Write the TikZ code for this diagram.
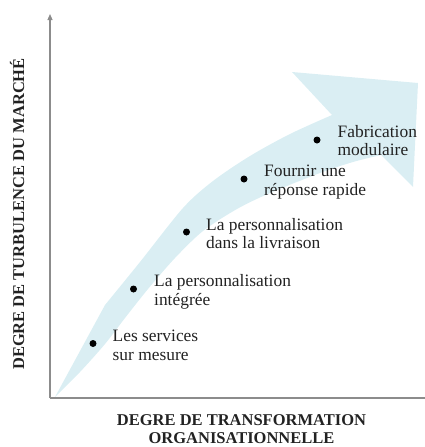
\documentclass[tikz,border=0pt]{standalone}
\usepackage{fontspec}
\setmainfont{Liberation Serif}
\usetikzlibrary{arrows.meta}
\definecolor{bandblue}{HTML}{DAEEF3}
\definecolor{axisgray}{HTML}{8C8C8C}
\definecolor{txt}{HTML}{222222}
\tikzset{
  axisline/.style={draw=axisgray, line width=1.1pt},
  band/.style={fill=bandblue},
  dot/.style={circle, fill=black, inner sep=0pt, minimum size=7pt},
  lbl/.style={anchor=base west, align=left, inner sep=0pt, text=txt,
    font=\fontsize{17.4}{18.5}\selectfont},
  axlbl/.style={inner sep=0pt, text=txt, align=center,
    font=\fontsize{16.5}{18.5}\selectfont\bfseries}
}
\begin{document}
\begin{tikzpicture}[x=1pt,y=-1pt]
\useasboundingbox (0,0) rectangle (425,447);
% band arrow
\fill[band] (55,397) -- plot[smooth, tension=0.5] coordinates {(105,305) (140,262) (183,208) (213,181) (250,156) (290,134) (332,115)}
  -- (292,72) -- (418,83) -- (413,187)
  -- plot[smooth, tension=0.5] coordinates {(381,155) (353,162) (320,173) (270,193) (237,209) (203,231) (175,258) (148,289) (125,318) (105,344) (80,372) (55,397)} -- cycle;
% axes
\coordinate (O) at (50,398);
\coordinate (Ytop) at (50,14);
\coordinate (Xend) at (425,398);
\draw[axisline, -{Triangle[length=6pt,width=5pt]}] (O) -- (Ytop);
\draw[axisline] (O) -- (Xend);
% dots
\node[dot] (d1) at (93,343.5) {};
\node[dot] (d2) at (133.5,289) {};
\node[dot] (d3) at (186.5,232) {};
\node[dot] (d4) at (244,179) {};
\node[dot] (d5) at (317,140) {};
% labels (anchor at baseline of the second line)
\node[lbl] (t1) at (112.5,360.2) {Les services\\sur mesure};
\node[lbl] (t2) at (154,305.2) {La personnalisation\\intégrée};
\node[lbl] (t3) at (206,248.5) {La personnalisation\\dans la livraison};
\node[lbl] (t4) at (264,195.2) {Fournir une\\réponse rapide};
\node[lbl] (t5) at (337.5,155.8) {Fabrication\\modulaire};
% axis labels
\node[axlbl, anchor=base] (xl) at (241.5,443.5) {DEGRE DE TRANSFORMATION\\ORGANISATIONNELLE};
\node[axlbl, rotate=90, anchor=base] (yl) at (24,214) {DEGRE DE TURBULENCE DU MARCHÉ};
\end{tikzpicture}
\end{document}
